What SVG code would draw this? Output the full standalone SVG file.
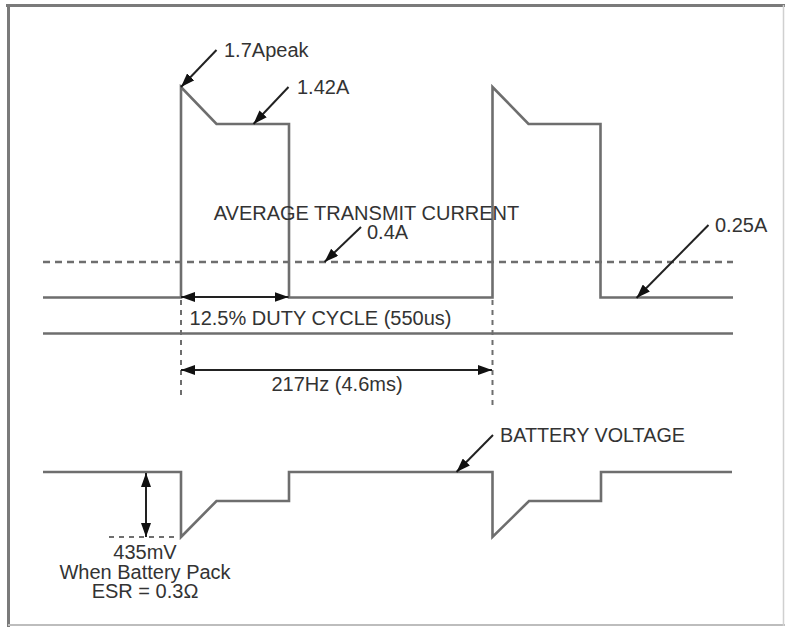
<svg xmlns="http://www.w3.org/2000/svg" width="785" height="627" viewBox="0 0 785 627">
<style>
  text { font-family: "Liberation Sans", Arial, sans-serif; font-size: 20px; fill: #333; }
  .wave { fill: none; stroke: #6e6e6e; stroke-width: 2.6; stroke-linejoin: miter; }
  .dash { fill: none; stroke: #6e6e6e; stroke-width: 2.4; stroke-dasharray: 7 5; }
  .vdash { fill: none; stroke: #6e6e6e; stroke-width: 2; stroke-dasharray: 5 5; }
  .lead { fill: none; stroke: #222; stroke-width: 2; }
</style>
<defs>
  <marker id="ah" markerWidth="14" markerHeight="10" refX="14" refY="5" orient="auto-start-reverse" markerUnits="userSpaceOnUse">
    <path d="M0,0 L14,5 L0,10 Z" fill="#111"/>
  </marker>
</defs>
<rect width="785" height="627" fill="#fff"/>
<g id="frame">
  <line x1="6" y1="5.5" x2="785" y2="5.5" stroke="#7a7a7a" stroke-width="3"/>
  <line x1="8.5" y1="4" x2="8.5" y2="627" stroke="#7a7a7a" stroke-width="3"/>
  <line x1="8" y1="625" x2="785" y2="625" stroke="#bdbdbd" stroke-width="2"/>
  <line x1="783.5" y1="5" x2="783.5" y2="626" stroke="#d0d0d0" stroke-width="1.5"/>
</g>
<g id="current-waveform">
  <polyline class="wave" points="43,297.5 181,297.5 181,87 216.5,124 289,124 289,297.5 492.5,297.5 492.5,87 528.5,124 600.5,124 600.5,297.5 733,297.5"/>
</g>
<g id="reference-lines">
  <line class="dash" x1="43" y1="262" x2="733" y2="262"/>
  <line class="wave" x1="43" y1="333.5" x2="733" y2="333.5"/>
  <line class="vdash" x1="181" y1="300" x2="181" y2="400"/>
  <line class="vdash" x1="492.5" y1="300" x2="492.5" y2="405"/>
</g>
<g id="battery-waveform">
  <polyline class="wave" points="43,472 181,472 181,537 216.5,501 289,501 289,472 492.5,472 492.5,537 529,501 601,501 601,472 732,472"/>
  <line class="vdash" x1="109" y1="537" x2="178" y2="537"/>
</g>
<g id="connectors">
  <line class="lead" x1="216.5" y1="50" x2="181" y2="87" marker-end="url(#ah)"/>
  <line class="lead" x1="288.5" y1="87" x2="253.5" y2="124" marker-end="url(#ah)"/>
  <line class="lead" x1="361" y1="227" x2="324.5" y2="262" marker-end="url(#ah)"/>
  <line class="lead" x1="708.5" y1="225" x2="636.5" y2="298" marker-end="url(#ah)"/>
  <line class="lead" x1="493" y1="435" x2="456.5" y2="472" marker-end="url(#ah)"/>
  <line class="lead" x1="181" y1="297" x2="288.5" y2="297" marker-start="url(#ah)" marker-end="url(#ah)"/>
  <line class="lead" x1="181" y1="370" x2="492" y2="370" marker-start="url(#ah)" marker-end="url(#ah)"/>
  <line class="lead" x1="146" y1="473" x2="146" y2="537" marker-start="url(#ah)" marker-end="url(#ah)"/>
</g>
<g id="labels">
  <text x="224" y="57">1.7Apeak</text>
  <text x="297" y="94">1.42A</text>
  <text x="366.5" y="220" text-anchor="middle">AVERAGE TRANSMIT CURRENT</text>
  <text x="367" y="239">0.4A</text>
  <text x="715" y="232">0.25A</text>
  <text x="320.5" y="325" text-anchor="middle">12.5% DUTY CYCLE (550us)</text>
  <text x="337" y="391" text-anchor="middle">217Hz (4.6ms)</text>
  <text x="500" y="442" textLength="185" lengthAdjust="spacingAndGlyphs">BATTERY VOLTAGE</text>
  <text x="145" y="559" text-anchor="middle">435mV</text>
  <text x="145" y="579" text-anchor="middle">When Battery Pack</text>
  <text x="145" y="598" text-anchor="middle">ESR = 0.3Ω</text>
</g>
</svg>
